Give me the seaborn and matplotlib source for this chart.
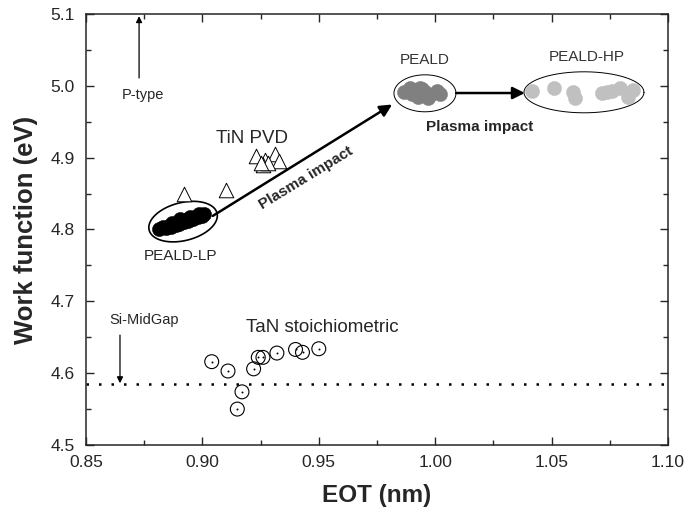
import numpy as np
import pandas as pd
import matplotlib
matplotlib.use("Agg")
import matplotlib.pyplot as plt
import seaborn as sns
from matplotlib.ticker import MultipleLocator

# ── data ────────────────────────────────────────────────────────────────────
lp_eot = [0.8815, 0.8830, 0.8845, 0.8855, 0.8865, 0.8875, 0.8885, 0.8890,
          0.8900, 0.8910, 0.8920, 0.8930, 0.8940, 0.8950, 0.8960, 0.8970,
          0.8980, 0.8990, 0.9000, 0.9005, 0.8870, 0.8905, 0.8945, 0.8985]
lp_wf = [4.801, 4.803, 4.802, 4.805, 4.804, 4.807, 4.806, 4.809,
         4.808, 4.811, 4.810, 4.813, 4.812, 4.815, 4.814, 4.817,
         4.818, 4.820, 4.819, 4.822, 4.809, 4.814, 4.817, 4.822]

peald_eot = [0.9866, 0.9892, 0.9913, 0.9935, 0.9956, 0.9978, 0.9926,
             0.9969, 1.0020, 1.0008, 0.9900, 0.9945]
peald_wf = [4.992, 4.997, 4.994, 4.997, 4.992, 4.987, 4.985,
            4.983, 4.989, 4.993, 4.989, 4.995]

hp_eot = [1.0416, 1.0510, 1.0590, 1.0600, 1.0717, 1.0760, 1.0794, 1.0828,
          1.0850, 1.0740]
hp_wf = [4.993, 4.997, 4.992, 4.983, 4.990, 4.993, 4.997, 4.985,
         4.994, 4.992]

tin_eot = [0.892, 0.910, 0.923, 0.927, 0.931, 0.933, 0.926, 0.928, 0.925]
tin_wf = [4.850, 4.855, 4.903, 4.897, 4.905, 4.895, 4.890, 4.892, 4.893]

tan_eot = [0.904, 0.911, 0.922, 0.924, 0.926, 0.932, 0.940, 0.943, 0.950,
           0.917, 0.915]
tan_wf = [4.616, 4.603, 4.606, 4.622, 4.622, 4.628, 4.633, 4.629, 4.634,
          4.574, 4.550]

si_midgap = 4.585

# ── figure ──────────────────────────────────────────────────────────────────
sns.set_style("ticks")
plt.rcParams["font.family"] = ["Liberation Sans", "DejaVu Sans"]

fig = plt.figure(figsize=(6.85, 5.17), dpi=100)
ax = fig.add_axes([86 / 685, 72 / 517, 582 / 685, 431 / 517])

ax.set_xlim(0.85, 1.10)
ax.set_ylim(4.5, 5.1)

sns.scatterplot(x=lp_eot, y=lp_wf, ax=ax, color="black", s=105,
                edgecolor="black", linewidth=0.3, zorder=3)
sns.scatterplot(x=peald_eot, y=peald_wf, ax=ax, color="#808080", s=105,
                edgecolor="#808080", linewidth=0.3, zorder=3)
sns.scatterplot(x=hp_eot, y=hp_wf, ax=ax, color="#c0c0c0", s=105,
                edgecolor="#c0c0c0", linewidth=0.3, zorder=3)
sns.scatterplot(x=tin_eot, y=tin_wf, ax=ax, marker="^", s=110,
                facecolor="white", edgecolor="black", linewidth=0.7, zorder=3)
sns.scatterplot(x=tan_eot, y=tan_wf, ax=ax, marker="o", s=100,
                facecolor="none", edgecolor="black", linewidth=0.8, zorder=3)
sns.scatterplot(x=tan_eot, y=tan_wf, ax=ax, marker="o", s=2,
                color="black", linewidth=0, zorder=4)

ax.axhline(si_midgap, color="black", lw=1.8, ls=(0, (1, 4)), zorder=2)

# ellipses drawn in pixel units, converted to data units
px_x = 0.25 / 582
px_y = 0.6 / 431


def ellipse(cx, cy, a, b, ang):
    t = np.linspace(0, 2 * np.pi, 200)
    th = np.deg2rad(ang)
    dx = a * np.cos(t) * np.cos(th) - b * np.sin(t) * np.sin(th)
    dy = a * np.cos(t) * np.sin(th) + b * np.sin(t) * np.cos(th)
    return cx + dx * px_x, cy + dy * px_y


ex, ey = ellipse(0.8917, 4.811, 35, 19, 14)
ax.plot(ex, ey, color="black", lw=1.2, zorder=2)
ex, ey = ellipse(0.9956, 4.9896, 31, 18.5, 0)
ax.plot(ex, ey, color="black", lw=0.7, zorder=2)
ex, ey = ellipse(1.0639, 4.991, 60, 20.5, 0)
ax.plot(ex, ey, color="black", lw=0.7, zorder=2)

arrow = dict(arrowstyle="-|>", color="black", lw=1.8, mutation_scale=18,
             shrinkA=0, shrinkB=0)
ax.annotate("", xy=(0.9815, 4.974), xytext=(0.9045, 4.819), arrowprops=arrow)
ax.annotate("", xy=(1.0385, 4.990), xytext=(1.0090, 4.990), arrowprops=arrow)

thin = dict(arrowstyle="-|>", color="black", lw=0.9, mutation_scale=9,
            shrinkA=0, shrinkB=0)
ax.annotate("", xy=(0.8728, 5.097), xytext=(0.8728, 5.011), arrowprops=thin)
ax.annotate("", xy=(0.8646, 4.586), xytext=(0.8646, 4.653), arrowprops=thin)

ax.text(0.9445, 4.872, "Plasma impact", rotation=31.5, fontsize=11,
        fontweight="bold", ha="center", va="center")
ax.text(1.019, 4.943, "Plasma impact", fontsize=11, fontweight="bold",
        ha="center", va="center")
ax.text(0.8745, 4.987, "P-type", fontsize=10.5, ha="center", va="center")
ax.text(0.875, 4.674, "Si-MidGap", fontsize=10.5, ha="center", va="center")
ax.text(0.9213, 4.926, "TiN PVD", fontsize=13.5, ha="center", va="center")
ax.text(0.9514, 4.664, "TaN stoichiometric", fontsize=13.5, ha="center",
        va="center")
ax.text(0.8904, 4.763, "PEALD-LP", fontsize=11, ha="center", va="center")
ax.text(0.9956, 5.036, "PEALD", fontsize=11, ha="center", va="center",
        color="#333333")
ax.text(1.065, 5.040, "PEALD-HP", fontsize=11, ha="center", va="center",
        color="#333333")

ax.xaxis.set_major_locator(MultipleLocator(0.05))
ax.xaxis.set_minor_locator(MultipleLocator(0.025))
ax.yaxis.set_major_locator(MultipleLocator(0.1))
ax.yaxis.set_minor_locator(MultipleLocator(0.05))
ax.xaxis.set_major_formatter(plt.FormatStrFormatter("%.2f"))
ax.yaxis.set_major_formatter(plt.FormatStrFormatter("%.1f"))
ax.tick_params(which="both", direction="in", top=True, right=True,
               labelsize=12.5, width=1)
ax.tick_params(which="major", length=6)
ax.tick_params(which="minor", length=3.5)
ax.tick_params(axis="x", which="major", pad=7)
ax.tick_params(axis="y", which="major", pad=8)
for sp in ax.spines.values():
    sp.set_linewidth(1.1)

ax.set_xlabel("EOT (nm)", fontsize=17.5, fontweight="bold", labelpad=10)
ax.set_ylabel("Work function (eV)", fontsize=18.5, fontweight="bold",
              labelpad=9)

fig.savefig("out.png", dpi=100)
plt.close(fig)
